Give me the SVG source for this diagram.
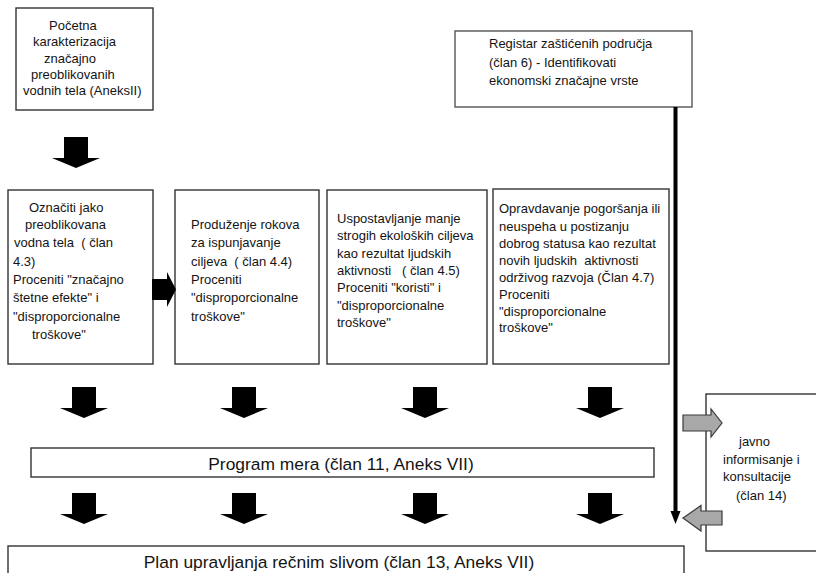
<svg xmlns="http://www.w3.org/2000/svg" width="816" height="573" viewBox="0 0 816 573">
  <style>
    .box { fill: #ffffff; stroke: #333333; stroke-width: 1.4; }
    .lbl { font-family: "Liberation Sans", Arial, sans-serif; font-size: 13px; fill: #141414; }
    .big { font-family: "Liberation Sans", Arial, sans-serif; font-size: 17.4px; fill: #141414; text-anchor: middle; }
    .blk { fill: #000000; }
    .gray { fill: #a8a8a8; stroke: #3a3a3a; stroke-width: 1.2; }
  </style>
  <defs>
    <!-- block arrow pointing down, origin at top centre of the shaft -->
    <path id="down" d="M-12,0 H12 V21 H24 L0,31 L-24,21 H-12 Z"/>
  </defs>
  <rect width="816" height="573" fill="#ffffff"/>

  <g id="n-pocetna">
    <rect class="box" x="16" y="8" width="137" height="102"/>
    <text class="lbl" x="49" y="30">Početna</text>
    <text class="lbl" x="33" y="46">karakterizacija</text>
    <text class="lbl" x="44" y="63">značajno</text>
    <text class="lbl" x="31" y="79">preoblikovanih</text>
    <text class="lbl" x="23" y="95">vodnih tela (AneksII)</text>
  </g>

  <g id="n-registar">
    <rect class="box" x="455" y="31" width="237" height="76" style="stroke:#555555"/>
    <text class="lbl" x="489" y="48">Registar zaštićenih područja</text>
    <text class="lbl" x="489" y="67">(član 6) - Identifikovati</text>
    <text class="lbl" x="489" y="85">ekonomski značajne vrste</text>
  </g>

  <g id="n-oznaciti">
    <rect class="box" x="8" y="190" width="145" height="174"/>
    <text class="lbl" x="29" y="212">Označiti jako</text>
    <text class="lbl" x="25" y="229">preoblikovana</text>
    <text class="lbl" x="14" y="247" xml:space="preserve">vodna tela  ( član</text>
    <text class="lbl" x="13" y="266">4.3)</text>
    <text class="lbl" x="13" y="284">Proceniti "značajno</text>
    <text class="lbl" x="13" y="302">štetne efekte" i</text>
    <text class="lbl" x="13" y="321">"disproporcionalne</text>
    <text class="lbl" x="32" y="339">troškove"</text>
  </g>

  <g id="n-produzenje">
    <rect class="box" x="175" y="190" width="144" height="174"/>
    <text class="lbl" x="191" y="229">Produženje rokova</text>
    <text class="lbl" x="191" y="247">za ispunjavanje</text>
    <text class="lbl" x="191" y="266" xml:space="preserve">ciljeva  ( član 4.4)</text>
    <text class="lbl" x="191" y="284">Proceniti</text>
    <text class="lbl" x="191" y="302">"disproporcionalne</text>
    <text class="lbl" x="191" y="321">troškove"</text>
  </g>

  <g id="n-uspostavljanje">
    <rect class="box" x="327" y="190" width="160" height="174"/>
    <text class="lbl" x="337" y="223">Uspostavljanje manje</text>
    <text class="lbl" x="337" y="240">strogih ekoloških ciljeva</text>
    <text class="lbl" x="337" y="258">kao rezultat ljudskih</text>
    <text class="lbl" x="337" y="275" xml:space="preserve">aktivnosti   ( član 4.5)</text>
    <text class="lbl" x="337" y="292">Proceniti "koristi" i</text>
    <text class="lbl" x="337" y="310">"disproporcionalne</text>
    <text class="lbl" x="337" y="327">troškove"</text>
  </g>

  <g id="n-opravdavanje">
    <rect class="box" x="493" y="189" width="176" height="175"/>
    <text class="lbl" x="499" y="213">Opravdavanje pogoršanja ili</text>
    <text class="lbl" x="499" y="231">neuspeha u postizanju</text>
    <text class="lbl" x="499" y="248">dobrog statusa kao rezultat</text>
    <text class="lbl" x="499" y="265" xml:space="preserve">novih ljudskih  aktivnosti</text>
    <text class="lbl" x="499" y="282">održivog razvoja (Član 4.7)</text>
    <text class="lbl" x="499" y="299">Proceniti</text>
    <text class="lbl" x="499" y="316">"disproporcionalne</text>
    <text class="lbl" x="499" y="332">troškove"</text>
  </g>

  <g id="n-program">
    <rect class="box" x="31" y="448" width="623" height="29"/>
    <text class="big" x="341" y="470">Program mera (član 11, Aneks VII)</text>
  </g>

  <g id="n-plan">
    <rect class="box" x="8" y="546" width="676" height="40"/>
    <text class="big" x="339" y="568">Plan upravljanja rečnim slivom (član 13, Aneks VII)</text>
  </g>

  <g id="n-javno">
    <rect class="box" x="706" y="394" width="124" height="157"/>
    <text class="lbl" x="739" y="446">javno</text>
    <text class="lbl" x="723" y="464">informisanje i</text>
    <text class="lbl" x="723" y="481">konsultacije</text>
    <text class="lbl" x="736" y="500">(član 14)</text>
  </g>

  <g id="connectors">
    <!-- top box down to the first column -->
    <use href="#down" class="blk" transform="translate(76,137)"/>
    <!-- first column feeds the second -->
    <path class="blk" d="M152,279 H167 V272 L176,289.5 L167,307 V300 H152 Z"/>
    <!-- columns down to the programme of measures -->
    <use href="#down" class="blk" transform="translate(84,387)"/>
    <use href="#down" class="blk" transform="translate(244,387)"/>
    <use href="#down" class="blk" transform="translate(425,387)"/>
    <use href="#down" class="blk" transform="translate(600,387)"/>
    <!-- programme of measures down to the basin plan -->
    <use href="#down" class="blk" transform="translate(84,493)"/>
    <use href="#down" class="blk" transform="translate(244,493)"/>
    <use href="#down" class="blk" transform="translate(425,493)"/>
    <use href="#down" class="blk" transform="translate(600,493)"/>
    <!-- register line running down the right side -->
    <rect class="blk" x="673.5" y="107" width="4" height="406"/>
    <path class="blk" d="M670.5,511 H680.5 L675.5,524 Z"/>
    <!-- exchange with public consultation -->
    <path class="gray" d="M683,415 H711 V409 L722,423 L711,437 V431 H683 Z"/>
    <path class="gray" d="M722,511 H701 V505.5 L683,518 L701,531 V525 H722 Z"/>
  </g>
</svg>
